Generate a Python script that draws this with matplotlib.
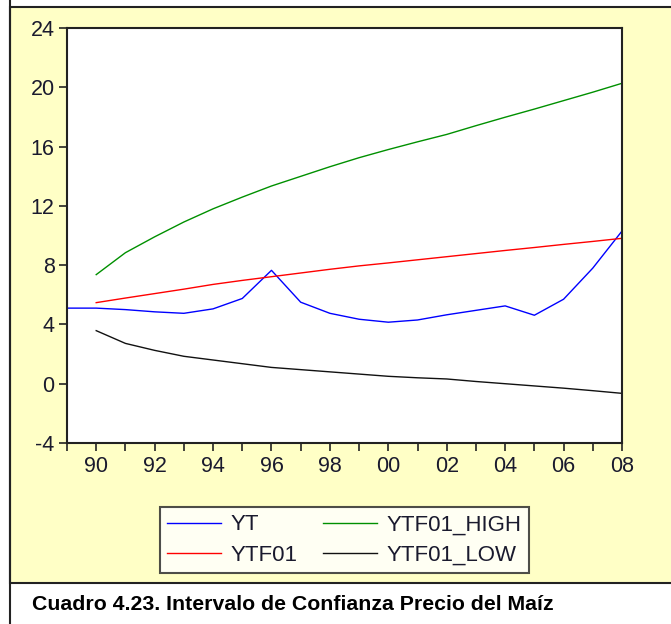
import matplotlib.pyplot as plt
from matplotlib.patches import Rectangle
from matplotlib.lines import Line2D

plt.rcParams['font.family'] = ['Liberation Sans', 'DejaVu Sans']
plt.rcParams['axes.unicode_minus'] = False

# yearly values
years = list(range(1989, 2009))
yt = [5.10, 5.10, 5.00, 4.85, 4.75, 5.05, 5.75, 7.65, 5.50, 4.75,
      4.35, 4.15, 4.30, 4.65, 4.95, 5.25, 4.62, 5.70, 7.80, 10.30]
fc_years = list(range(1990, 2009))
ytf01 = [5.47, 5.78, 6.08, 6.38, 6.70, 6.97, 7.22, 7.47, 7.72, 7.95,
         8.15, 8.36, 8.57, 8.78, 8.99, 9.19, 9.40, 9.60, 9.81]
ytf01_low = [3.58, 2.72, 2.25, 1.85, 1.60, 1.35, 1.10, 0.95, 0.80, 0.65,
             0.50, 0.40, 0.32, 0.15, 0.00, -0.15, -0.30, -0.47, -0.65]
ytf01_high = [7.36, 8.84, 9.91, 10.91, 11.80, 12.59, 13.34, 13.99, 14.64, 15.25,
              15.80, 16.32, 16.82, 17.41, 17.98, 18.53, 19.10, 19.67, 20.27]

yticks = [-4, 0, 4, 8, 12, 16, 20, 24]
xlabel_years = list(range(1990, 2009, 2))

W, H = 671, 624
fig = plt.figure(figsize=(W / 100, H / 100), dpi=100)
fig.patch.set_facecolor('white')

bg = '#FFFFC6'
# outer frame, beige part above caption
fig.patches.append(Rectangle((10 / W, (H - 583) / H), 1, 576 / H, transform=fig.transFigure,
                             facecolor=bg, edgecolor='#222222', linewidth=1.5, zorder=-10))
fig.add_artist(Line2D([10 / W, 10 / W], [0, 1], transform=fig.transFigure,
                      color='#222222', linewidth=1.5, zorder=-9))

ax = fig.add_axes([67 / W, (H - 443) / H, 555 / W, 415 / H])
ax.set_zorder(1)
ax.set_facecolor('white')

ax.plot(years, yt, color='#0000FF', lw=1.0, label='YT')
ax.plot(fc_years, ytf01, color='#FF0000', lw=1.0, label='YTF01')
ax.plot(fc_years, ytf01_high, color='#009000', lw=1.0, label='YTF01_HIGH')
ax.plot(fc_years, ytf01_low, color='#111111', lw=1.0, label='YTF01_LOW')

ax.set_xlim(1989, 2008)
ax.set_ylim(-4, 24)
ax.set_yticks(yticks)
ax.set_xticks(years)
ax.set_xticklabels(['%02d' % (y % 100) if y in xlabel_years else '' for y in years])
ax.tick_params(axis='both', direction='out', length=6, width=1.2,
               color='#222222', pad=3)
for lab in ax.get_xticklabels() + ax.get_yticklabels():
    lab.set_family(['Liberation Sans Narrow', 'Liberation Sans'])
    lab.set_fontsize(15.5)
    lab.set_color('#1a1a2e')
for s in ax.spines.values():
    s.set_linewidth(1.5)
    s.set_color('#222222')

handles, labels = ax.get_legend_handles_labels()
leg = fig.legend(handles, labels,
                 ncol=2, loc='center', bbox_to_anchor=(344.5 / W, (H - 540) / H),
                 fontsize=16, frameon=True, fancybox=False, edgecolor='#222222',
                 handlelength=2.4, handletextpad=0.45, columnspacing=1.15,
                 labelspacing=0.42, borderpad=0.35)
leg.set_zorder(2)
leg.get_frame().set_linewidth(1.5)
leg.get_frame().set_facecolor('white')
for t in leg.get_texts():
    t.set_color('#1a1a2e')

fig.text(32 / W, (H - 605) / H, 'Cuadro 4.23. Intervalo de Confianza Precio del Maíz',
         fontsize=15.3, fontweight='bold', ha='left', va='center')

fig.savefig('out.png', dpi=100, facecolor=fig.get_facecolor())
